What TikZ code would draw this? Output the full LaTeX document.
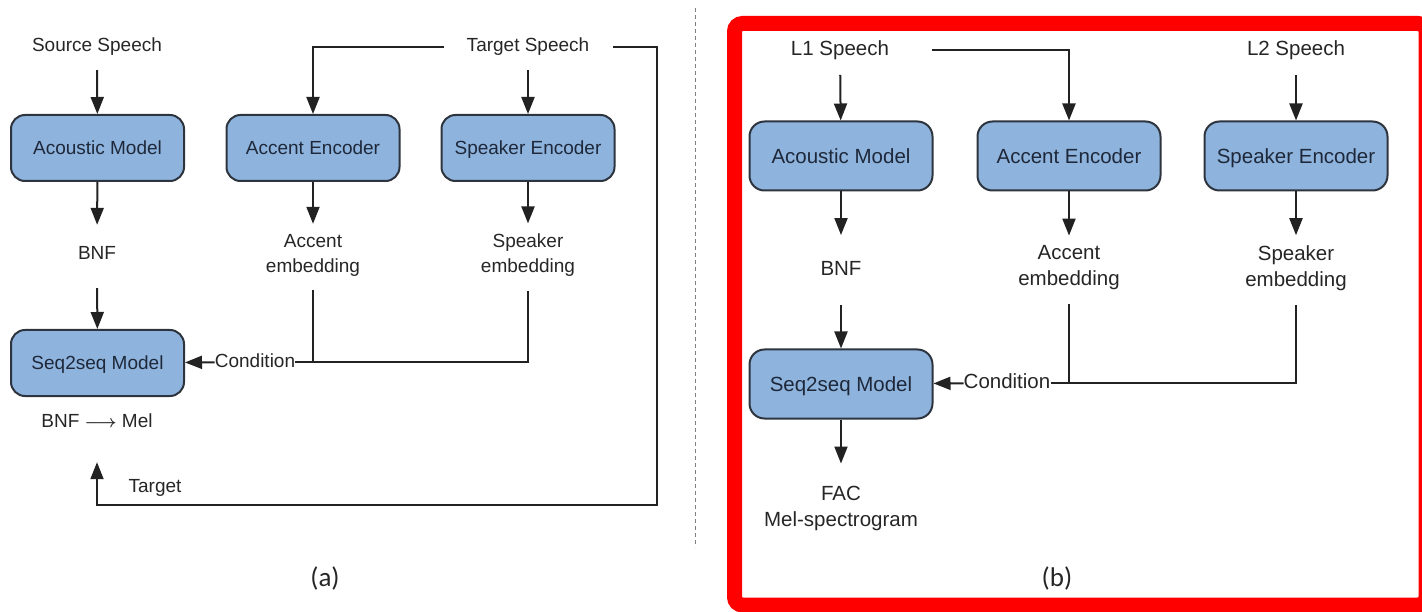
\documentclass[tikz,border=0pt]{standalone}
\usepackage{fontspec}
\setmainfont{Liberation Sans}
\newfontfamily\capfont{Carlito}
\usetikzlibrary{arrows.meta}
\definecolor{boxfill}{RGB}{142,180,221}
\definecolor{boxline}{RGB}{45,52,62}
\definecolor{boxtext}{RGB}{30,40,58}
\definecolor{linecol}{RGB}{34,34,34}
\definecolor{labeltext}{RGB}{38,38,38}
\definecolor{redframe}{RGB}{255,0,0}
\tikzset{
  fa/.style={font=\fontsize{19}{25}\selectfont},
  fb/.style={font=\fontsize{20.5}{26}\selectfont},
  lbl/.style={inner sep=0pt, align=center, text=labeltext},
  lblA/.style={lbl, fa},
  lblB/.style={lbl, fb},
  oneA/.style={text height=14pt, text depth=4pt},
  oneB/.style={text height=15pt, text depth=4.5pt},
  boxA/.style={draw=boxline, line width=2pt, fill=boxfill, rounded corners=14pt,
    minimum width=173pt, minimum height=66pt, text=boxtext, inner sep=0pt, fa,
    text height=13.6pt, text depth=0pt},
  boxB/.style={draw=boxline, line width=2pt, fill=boxfill, rounded corners=15pt,
    minimum width=183pt, minimum height=69pt, text=boxtext, inner sep=0pt, fb,
    text height=14.7pt, text depth=0pt},
  ln/.style={draw=linecol, line width=2pt},
  arr/.style={ln, -{Triangle[length=17pt,width=13pt]}},
  capstyle/.style={inner sep=0pt, text=labeltext, font=\capfont\fontsize{27}{30}\selectfont}
}
\begin{document}
\begin{tikzpicture}[x=1pt,y=-1pt]
\useasboundingbox (0,0) rectangle (1422,612);

% ---------------- panel (a) ----------------
\node[lblA,oneA] (srcA) at (97,47) {Source Speech};
\node[boxA] (amA) at (97.5,148) {Acoustic Model};
\node[lblA,oneA] (bnfA) at (97,255) {BNF};
\node[boxA] (s2sA) at (97.5,363) {Seq2seq Model};
\node[lblA,oneA] (melA) at (97,422) {BNF {\boldmath$\longrightarrow$} Mel};
\node[lblA,oneA] (tgtA) at (528,47) {Target Speech};
\node[boxA] (aeA) at (313,148) {Accent Encoder};
\node[boxA] (seA) at (528,148) {Speaker Encoder};
\node[lblA] (aembA) at (313,255) {Accent\\embedding};
\node[lblA] (sembA) at (528,255) {Speaker\\embedding};
\node[lblA,oneA] (condA) at (255,362) {Condition};
\node[lblA,oneA] (targA) at (155,487) {Target};
\coordinate (rA) at (657,505);

\draw[arr, shorten <=14pt] (srcA) -- (amA);
\draw[arr, shorten >=21pt] (amA) -- (bnfA);
\draw[arr, shorten <=24pt] (bnfA) -- (s2sA);
\draw[arr, shorten <=14pt] (tgtA) -- (seA);
\draw[arr, shorten <=23pt] (tgtA.west) -| (aeA);
\draw[arr, shorten >=10pt] (aeA) -- (aembA);
\draw[arr, shorten >=10pt] (seA) -- (sembA);
\draw[ln, shorten <=14pt] (aembA) -- (aembA |- condA);
\draw[ln, shorten <=14pt] (sembA) |- (condA);
\draw[arr] (condA) -- (s2sA);
\draw[arr, shorten <=24pt, shorten >=31pt] (tgtA.east) -| (rA) -| (melA);

\node[capstyle] (capA) at (325,578) {(a)};

% divider
\draw[gray, line width=1pt, dash pattern=on 4pt off 3pt] (695,8) -- (695,547);

% ---------------- panel (b) ----------------
\begin{scope}
\clip (0,0) rectangle (1422,612);
\draw[redframe, line width=15pt, rounded corners=8pt] (734.5,23.5) rectangle (1426,605);
\end{scope}

\node[lblB,oneB] (l1) at (840,50) {L1 Speech};
\node[lblB,oneB] (l2) at (1296,50) {L2 Speech};
\node[boxB] (amB) at (841,156) {Acoustic Model};
\node[boxB] (aeB) at (1069,156) {Accent Encoder};
\node[boxB] (seB) at (1296,156) {Speaker Encoder};
\node[lblB,oneB] (bnfB) at (841,270) {BNF};
\node[lblB] (aembB) at (1069,268) {Accent\\embedding};
\node[lblB] (sembB) at (1296,268) {Speaker\\embedding};
\node[boxB] (s2sB) at (841,384) {Seq2seq Model};
\node[lblB,oneB] (condB) at (1007,383) {Condition};
\node[lblB] (facB) at (841,508) {FAC\\Mel-spectrogram};

\draw[arr, shorten <=15pt] (l1) -- (amB);
\draw[arr, shorten <=15pt] (l2) -- (seB);
\draw[arr, shorten <=43pt] (l1.east) -| (aeB);
\draw[arr, shorten >=25pt] (amB) -- (bnfB);
\draw[arr, shorten >=10pt] (aeB) -- (aembB);
\draw[arr, shorten >=10pt] (seB) -- (sembB);
\draw[arr, shorten <=25pt] (bnfB) -- (s2sB);
\draw[ln, shorten <=14pt] (aembB) -- (aembB |- condB);
\draw[ln, shorten <=14pt] (sembB) |- (condB);
\draw[arr] (condB) -- (s2sB);
\draw[arr, shorten >=22pt] (s2sB) -- (facB);

\node[capstyle] (capB) at (1057,578) {(b)};
\end{tikzpicture}
\end{document}
